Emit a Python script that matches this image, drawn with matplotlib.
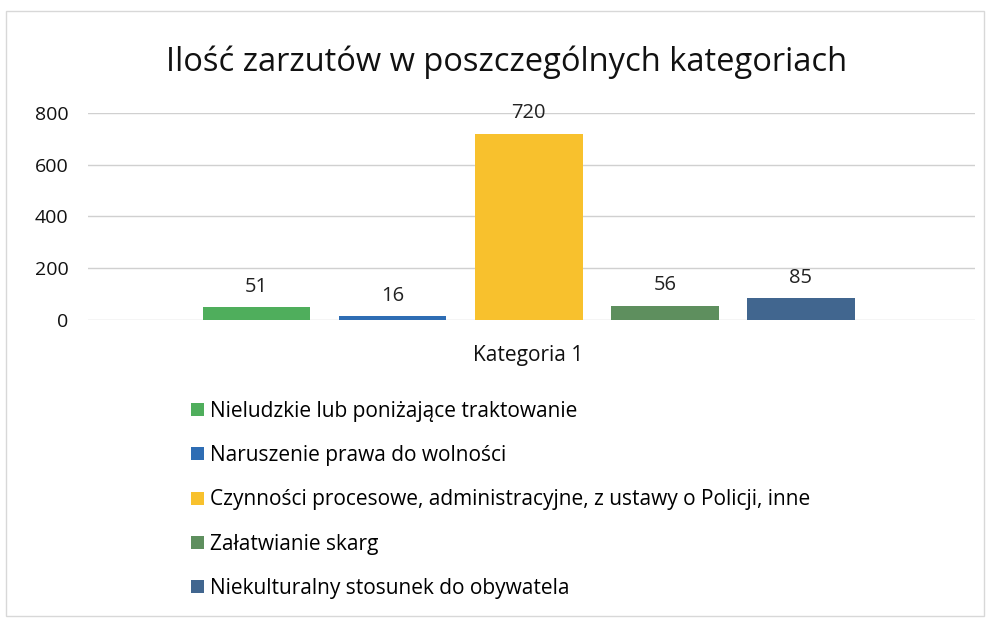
import numpy as np
import matplotlib.pyplot as plt
from matplotlib.patches import Patch, Rectangle

# Chart data
series_names = ["Nieludzkie lub poniżające traktowanie",
                "Naruszenie prawa do wolności",
                "Czynności procesowe, administracyjne, z ustawy o Policji, inne",
                "Załatwianie skarg",
                "Niekulturalny stosunek do obywatela"]
values = [51, 16, 720, 56, 85]
category = "Kategoria 1"
y_ticks = [0, 200, 400, 600, 800]
colors = ["#4FAE5C", "#2E6DB4", "#F8C12D", "#5E8F5E", "#41668F"]

plt.rcParams['font.family'] = ['Open Sans', 'DejaVu Sans']

fig = plt.figure(figsize=(9.88, 6.23), dpi=100)
ax = fig.add_axes([0.089, 0.486, 0.898, 0.333])

# one cluster of bars around x=0
n = len(values)
pos = np.arange(n) - (n - 1) / 2
width = 0.79
bars = ax.bar(pos, values, width=width, color=colors, zorder=3)
for x, v in zip(pos, values):
    ax.text(x, v + 40, str(v), ha='center', va='bottom', fontsize=14.5, color='#222222')

ax.set_xlim(-3.24, 3.28)
ax.set_ylim(0, 800)
ax.set_yticks(y_ticks)
ax.set_yticklabels([str(t) for t in y_ticks], fontsize=14, color='#111111')
ax.set_xticks([])
ax.tick_params(axis='y', length=0, pad=14)
ax.grid(axis='y', color='#D0D0D0', linewidth=1, zorder=0)
for s in ax.spines.values():
    s.set_visible(False)

fig.text(0.535, 0.43, category, ha='center', va='center', fontsize=15, color='#111111')
fig.text(0.513, 0.9, "Ilość zarzutów w poszczególnych kategoriach",
         ha='center', va='center', fontsize=23.5, color='#111111')

handles = [Patch(facecolor=c, edgecolor='none') for c in colors]
fig.legend(handles, series_names, loc='upper left', bbox_to_anchor=(0.185, 0.37),
           frameon=False, fontsize=15, handlelength=0.6, handleheight=0.6,
           handletextpad=0.3, labelspacing=1.12, borderaxespad=0)

# faint outer frame of the chart
fig.patches.append(Rectangle((0.006, 0.012), 0.99, 0.97, transform=fig.transFigure,
                             fill=False, edgecolor='#D8D8D8', linewidth=1))

fig.savefig("out.png", dpi=100)
